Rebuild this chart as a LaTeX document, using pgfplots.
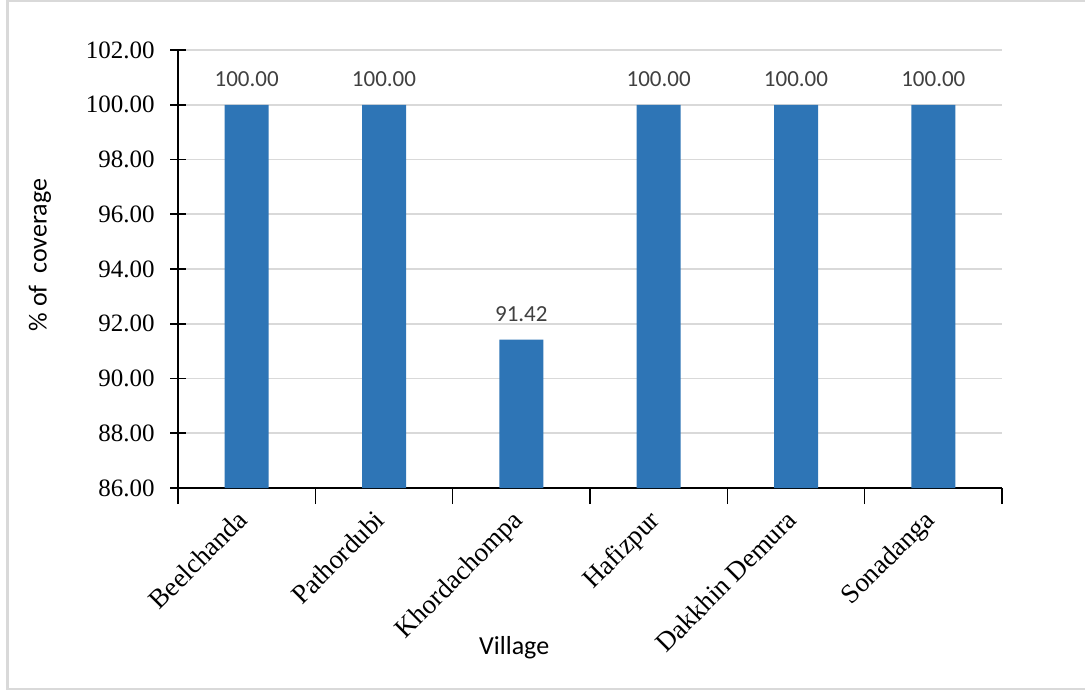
\documentclass[border=0pt]{standalone}
\usepackage{fontspec}
\setmainfont{Liberation Serif}
\newfontfamily\calibri{Carlito}
\usepackage{pgfplots}
\pgfplotsset{compat=1.18}
\definecolor{barblue}{HTML}{2E75B6}
\definecolor{gridgray}{HTML}{D9D9D9}
\definecolor{labelgray}{HTML}{404040}
\definecolor{framegray}{HTML}{D9D9D9}
\begin{document}
\begin{tikzpicture}
% canvas 542.5pt x 346.5pt
\path[use as bounding box] (0,0) rectangle (542.5pt,346.5pt);
\draw[framegray, line width=1.2pt] (550pt,346pt) -- (3.75pt,346pt) -- (3.75pt,2pt) -- (550pt,2pt);
\begin{axis}[
  at={(89pt,102.5pt)}, anchor=south west,
  scale only axis,
  width=412pt, height=219pt,
  xmin=-0.5, xmax=5.5,
  ymin=86, ymax=102,
  ytick={86,88,...,102},
  xtick={0,...,5},
  xticklabels={Beelchanda,Pathordubi,Khordachompa,Hafizpur,Dakkhin Demura,Sonadanga},
  minor xtick={-0.5,0.5,...,5.5},
  major x tick style={draw=none},
  minor x tick style={black, line width=0.8pt},
  minor tick length=8pt,
  axis x line*=bottom, axis y line*=left,
  axis line style={black, line width=0.8pt, -},
  ymajorgrids, grid style={gridgray, line width=0.8pt},
  major tick length=8pt,
  y tick style={black, line width=0.8pt},
  tick align=center,
  /pgf/number format/.cd, fixed, fixed zerofill, precision=2, assume math mode=true,
  /pgfplots/.cd,
  yticklabel style={font=\fontsize{12.5}{14}\selectfont, inner sep=0pt, xshift=-7.5pt},
  xticklabel style={font=\fontsize{13.5}{15}\selectfont, xshift=-5.5pt, yshift=-2pt, rotate=45, anchor=north east, inner sep=0pt},
  xlabel={\calibri Village},
  xlabel style={font=\fontsize{13}{15}\selectfont, at={(axis description cs:0.408,-0.381)}, anchor=base},
  ylabel={\calibri \%\ of\ \ coverage},
  ylabel style={font=\fontsize{13}{15}\selectfont, at={(axis description cs:-0.1675,0.532)}, anchor=center},
  ybar, bar width=22pt, bar shift=0pt,
  nodes near coords,
  nodes near coords style={font=\calibri\fontsize{11.5}{13}\selectfont, color=labelgray, yshift=5.5pt,
    /pgf/number format/.cd, fixed, fixed zerofill, precision=2, assume math mode=true},
  clip=false,
]
\addplot[fill=barblue, draw=none] coordinates {
  (0,100.00) (1,100.00) (2,91.42) (3,100.00) (4,100.00) (5,100.00)
};
\end{axis}
\end{tikzpicture}
\end{document}
